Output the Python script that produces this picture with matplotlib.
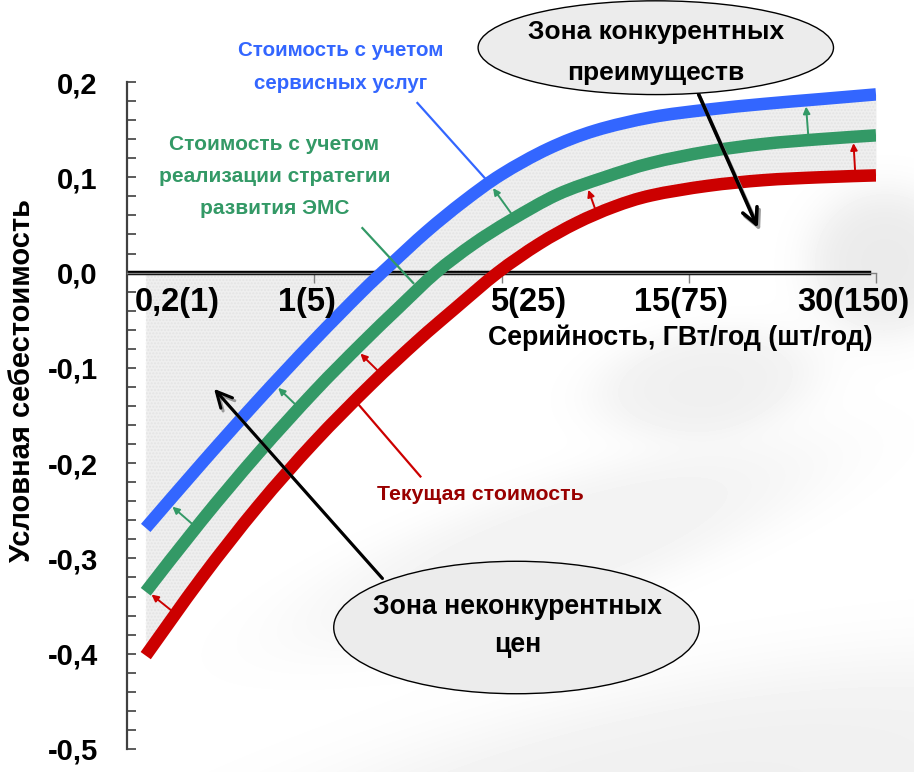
import numpy as np
import matplotlib
matplotlib.use("Agg")
import matplotlib.pyplot as plt
from matplotlib.patches import Ellipse, PathPatch
from matplotlib.path import Path
from matplotlib.ticker import MultipleLocator, FixedLocator, FixedFormatter

plt.rcParams['font.family'] = ['Liberation Sans', 'DejaVu Sans']
plt.rcParams['font.weight'] = 'bold'

# ---- series: conditional cost vs. production volume ----
blue_x = [0.10, 0.40, 0.70, 1.00, 1.25, 1.40, 1.60, 1.80, 2.00, 2.25, 2.50, 2.80, 3.10, 3.40, 3.70, 4.00]
blue_y = [-0.268, -0.200, -0.134, -0.071, -0.021, 0.007, 0.043, 0.075, 0.103, 0.130, 0.149, 0.163, 0.171, 0.177, 0.182, 0.187]

green_x = [0.10, 0.40, 0.70, 1.00, 1.25, 1.45, 1.65, 1.85, 2.05, 2.30, 2.55, 2.80, 3.10, 3.40, 3.70, 4.00]
green_y = [-0.335, -0.260, -0.190, -0.125, -0.075, -0.037, 0.000, 0.030, 0.055, 0.082, 0.100, 0.115, 0.127, 0.135, 0.140, 0.144]

red_x = [0.10, 0.40, 0.70, 1.00, 1.30, 1.55, 1.75, 1.98, 2.20, 2.40, 2.60, 2.80, 3.10, 3.40, 3.70, 4.00]
red_y = [-0.402, -0.320, -0.245, -0.178, -0.118, -0.072, -0.038, 0.000, 0.030, 0.052, 0.069, 0.081, 0.091, 0.097, 0.100, 0.102]

# category labels of the volume axis and where they sit
x_labels = ['0,2(1)', '1(5)', '5(25)', '15(75)', '30(150)']
x_label_pos = [0.27, 0.96, 2.14, 2.96, 3.88]

y_ticks = [-0.5, -0.4, -0.3, -0.2, -0.1, 0.0, 0.1, 0.2]
y_labels = ['-0,5', '-0,4', '-0,3', '-0,2', '-0,1', '0,0', '0,1', '0,2']

# small shift arrows: x of the arrow base on the lower curve
green_arrow_x = [0.37, 0.92, 2.07, 3.64]
red_arrow_x = [0.26, 1.36, 2.51, 3.89]

C_BLUE = '#3366ff'
C_GREEN = '#339966'
C_RED = '#cc0000'
C_DARKRED = '#990000'

W, H = 914, 772
fig = plt.figure(figsize=(W / 100, H / 100), dpi=100)

# soft decorative background
bg = fig.add_axes([0, 0, 1, 1], zorder=-10)
yy, xx = np.mgrid[0:H, 0:W] + 0.5
blobs = [
    (885, 262, 72, 70, 0, 0.08),
    (705, 383, 105, 50, -8, 0.06),
    (560, 545, 260, 60, -18, 0.05),
    (660, 810, 460, 115, -12, 0.06),
]
shade = np.zeros((H, W))
for cx, cy, rx, ry, ang, dark in blobs:
    t = np.deg2rad(ang)
    dx, dy = xx - cx, yy - cy
    u = (dx * np.cos(t) + dy * np.sin(t)) / rx
    v = (-dx * np.sin(t) + dy * np.cos(t)) / ry
    r = np.sqrt(u * u + v * v)
    shade += dark / (1 + np.exp((r - 1) / 0.18))
bg.imshow(1 - shade, cmap='gray', vmin=0, vmax=1, extent=(0, W, H, 0),
          aspect='auto', interpolation='bilinear')
bg.set_xlim(0, W)
bg.set_ylim(H, 0)
bg.set_axis_off()

ax = fig.add_axes([127 / W, 1 - 749 / H, 749 / W, (749 - 82) / H])
ax.patch.set_alpha(0)
ax.set_xlim(0, 4)
ax.set_ylim(-0.5, 0.2)


def smooth_path(xs, ys):
    """Catmull-Rom style smoothed path through the given points."""
    p = np.column_stack([xs, ys]).astype(float)
    ext = np.vstack([p[0], p, p[-1]])
    verts = [p[0]]
    codes = [Path.MOVETO]
    for i in range(1, len(ext) - 2):
        c1 = ext[i] + (ext[i + 1] - ext[i - 1]) / 6.0
        c2 = ext[i + 1] - (ext[i + 2] - ext[i]) / 6.0
        verts += [c1, c2, ext[i + 1]]
        codes += [Path.CURVE4] * 3
    return Path(verts, codes)


# shaded zone between the current cost and the service-cost curves
fx = np.array(red_x)
upper = np.maximum(np.interp(fx, blue_x, blue_y), 0.0)
ax.fill_between(fx, red_y, upper, color='#efefef', lw=0, zorder=1)
ax.fill_between(fx, red_y, upper, facecolor='none', edgecolor='#e4e4e4',
                hatch='.....', lw=0, zorder=1)

# axes styling
for s in ('top', 'right'):
    ax.spines[s].set_visible(False)
ax.spines['left'].set_color('#404040')
ax.spines['left'].set_linewidth(1.6)
ax.spines['bottom'].set_position(('data', 0))
ax.spines['bottom'].set_color('#7f7f7f')
ax.spines['bottom'].set_linewidth(1.0)
ax.axhline(0, xmin=0, xmax=0.99, color='black', lw=3.2, zorder=2)

ax.yaxis.set_major_locator(FixedLocator(y_ticks))
ax.yaxis.set_major_formatter(FixedFormatter(y_labels))
ax.yaxis.set_minor_locator(MultipleLocator(0.02))
ax.tick_params(axis='y', which='both', direction='in', length=6.5, width=1.2,
               color='#404040')
ax.tick_params(axis='y', which='major', labelsize=21, pad=21)
for lab in ax.get_yticklabels():
    lab.set_fontweight('bold')

ax.set_xticks([1, 2, 3, 4])
ax.set_xticklabels([])
ax.tick_params(axis='x', which='major', direction='out', length=7, width=1.0,
               color='#7f7f7f')

for s, xp in zip(x_labels, x_label_pos):
    ax.text(xp, -0.031, s, ha='center', va='center', fontsize=23.5,
            fontweight='bold', zorder=6)

ax.text(2.957, -0.068, 'Серийность, ГВт/год (шт/год)', ha='center', va='center',
        fontsize=19.3, fontweight='bold', zorder=6)
fig.text(22 / W, 1 - 380 / H, 'Условная себестоимость', rotation=90,
         ha='center', va='center', fontsize=21, fontweight='bold')

# cost curves
for xs, ys, c in ((red_x, red_y, C_RED), (green_x, green_y, C_GREEN),
                  (blue_x, blue_y, C_BLUE)):
    ax.add_patch(PathPatch(smooth_path(xs, ys), facecolor='none', edgecolor=c,
                           lw=9, capstyle='butt', joinstyle='round', zorder=3))


def shift_arrow(x0, lo_x, lo_y, up_x, up_y, color):
    y0 = np.interp(x0, lo_x, lo_y)
    p0 = ax.transData.transform((x0, y0))
    xs = np.linspace(up_x[0], up_x[-1], 800)
    ys = np.interp(xs, up_x, up_y)
    pts = ax.transData.transform(np.column_stack([xs, ys]))
    i = np.argmin(np.hypot(pts[:, 0] - p0[0], pts[:, 1] - p0[1]))
    ax.annotate('', xy=(xs[i], ys[i]), xytext=(x0, y0),
                arrowprops=dict(arrowstyle='-|>', color=color, lw=1.4,
                                mutation_scale=10, shrinkA=4.5, shrinkB=4.5),
                zorder=4)


for xa in green_arrow_x:
    shift_arrow(xa, green_x, green_y, blue_x, blue_y, C_GREEN)
for xa in red_arrow_x:
    shift_arrow(xa, red_x, red_y, green_x, green_y, C_RED)

# curve captions with leader lines
ax.text(1.140, 0.2155, 'Стоимость с учетом\nсервисных услуг', color=C_BLUE,
        ha='center', va='center', fontsize=14.8, fontweight='bold',
        linespacing=1.95, zorder=6, clip_on=False)
ax.plot([1.551, 1.941], [0.178, 0.0926], color=C_BLUE, lw=1.6, zorder=4)

ax.text(0.787, 0.101, 'Стоимость с учетом\nреализации стратегии\nразвития ЭМС',
        color=C_GREEN, ha='center', va='center', fontsize=15,
        fontweight='bold', linespacing=1.87, zorder=6)
ax.plot([1.257, 1.529], [0.0467, -0.011], color=C_GREEN, lw=1.6, zorder=4)

ax.text(1.888, -0.233, 'Текущая стоимость', color=C_DARKRED, ha='center',
        va='center', fontsize=15.3, fontweight='bold', zorder=6)
ax.plot([1.230, 1.567], [-0.137, -0.214], color=C_RED, lw=1.6, zorder=4)

# zone callouts
top_ell = Ellipse((2.824, 0.236), 1.898, 0.0984, facecolor='#ececec',
                  edgecolor='black', lw=1.0, zorder=7, clip_on=False)
ax.add_patch(top_ell)
ax.text(2.824, 0.231, 'Зона конкурентных\nпреимуществ', ha='center',
        va='center', fontsize=19, fontweight='bold', linespacing=1.9,
        zorder=8, clip_on=False)

bot_ell = Ellipse((2.080, -0.3725), 1.952, 0.139, facecolor='#ececec',
                  edgecolor='black', lw=1.0, zorder=7)
ax.add_patch(bot_ell)
ax.text(2.085, -0.371, 'Зона неконкурентных\nцен', ha='center', va='center',
        fontsize=19.2, fontweight='bold', linespacing=1.6, zorder=8)

for dx, dy, col, z in ((0.012, -0.003, '#9a9a9a', 5), (0, 0, 'black', 6)):
    ax.annotate('', xy=(3.369 + dx, 0.047 + dy), xytext=(3.053, 0.187),
                arrowprops=dict(arrowstyle='->', color=col, lw=2.6,
                                mutation_scale=28, shrinkA=0, shrinkB=0),
                zorder=z)
    ax.annotate('', xy=(0.465 + dx, -0.122 + dy), xytext=(1.364, -0.321),
                arrowprops=dict(arrowstyle='->', color=col, lw=2.2,
                                mutation_scale=28, shrinkA=0, shrinkB=0),
                zorder=z)

fig.savefig('out.png', dpi=100)
